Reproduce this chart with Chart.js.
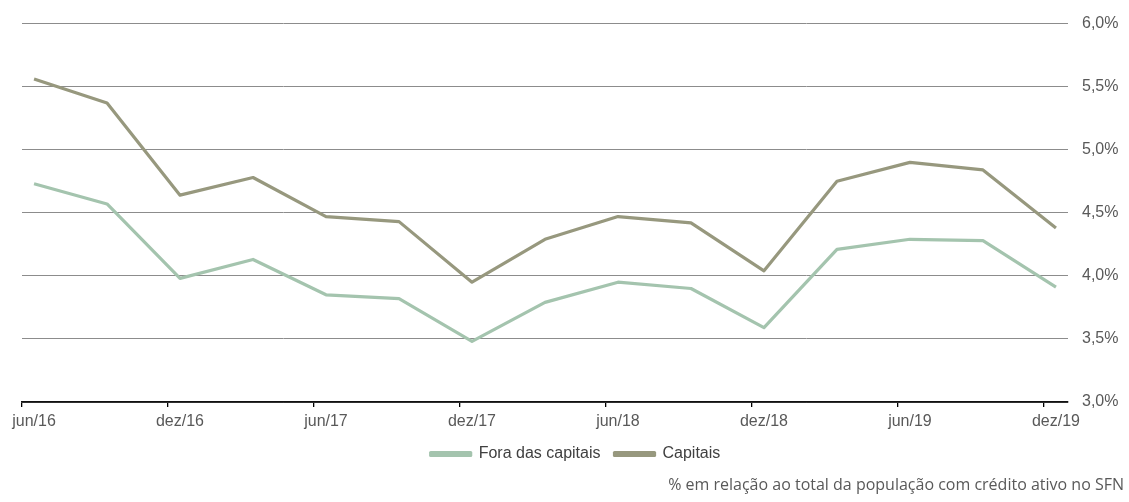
<!DOCTYPE html>
<html lang="pt-BR">
<head>
  <meta charset="UTF-8">
  <title>Inadimplência - capitais e fora das capitais</title>
  <script src="https://cdn.jsdelivr.net/npm/chart.js"></script>
  <style>
    html, body {
      margin: 0;
      padding: 0;
      background: #fff;
    }
    #wrap {
      position: relative;
      width: 1129px;
      height: 502px;
    }
    #nota {
      position: absolute;
      right: 5px;
      top: 473px;
      font-family: "Open Sans", sans-serif;
      font-size: 16px;
      color: #595959;
      white-space: nowrap;
    }
  </style>
</head>
<body>
  <div id="wrap">
    <canvas id="grafico" width="1129" height="502"></canvas>
    <div id="nota">% em relação ao total da população com crédito ativo no SFN</div>
  </div>

  <script>
    // trimestres de jun/16 a dez/19
    const trimestres = ['jun/16', 'set/16', 'dez/16', 'mar/17', 'jun/17', 'set/17', 'dez/17', 'mar/18',
                        'jun/18', 'set/18', 'dez/18', 'mar/19', 'jun/19', 'set/19', 'dez/19'];
    const foraCapitais = [4.73, 4.57, 3.98, 4.13, 3.85, 3.82, 3.48, 3.79, 3.95, 3.90, 3.59, 4.21, 4.29, 4.28, 3.91];
    const capitais = [5.56, 5.37, 4.64, 4.78, 4.47, 4.43, 3.95, 4.29, 4.47, 4.42, 4.04, 4.75, 4.90, 4.84, 4.38];
    const rotulosX = ['jun/16', 'dez/16', 'jun/17', 'dez/17', 'jun/18', 'dez/18', 'jun/19', 'dez/19'];
    const ticksY = [3.0, 3.5, 4.0, 4.5, 5.0, 5.5, 6.0];

    const MARGEM = 0.165; // folga do eixo antes do primeiro e depois do último trimestre

    function pontos(serie) {
      return serie.map((v, i) => ({ x: i, y: v }));
    }

    const fonte = { family: "'Liberation Sans', Arial, sans-serif", size: 16 };

    new Chart(document.getElementById('grafico').getContext('2d'), {
      type: 'line',
      data: {
        datasets: [
          {
            label: 'Fora das capitais',
            data: pontos(foraCapitais),
            borderColor: '#a4c4ae',
            backgroundColor: '#a4c4ae',
            borderWidth: 3.2,
            pointRadius: 0,
            borderJoinStyle: 'round'
          },
          {
            label: 'Capitais',
            data: pontos(capitais),
            borderColor: '#97987e',
            backgroundColor: '#97987e',
            borderWidth: 3.2,
            pointRadius: 0,
            borderJoinStyle: 'round'
          }
        ]
      },
      options: {
        responsive: false,
        animation: false,
        layout: { padding: { left: 22, top: 21, right: 0, bottom: 30 } },
        plugins: {
          tooltip: { enabled: false },
          legend: {
            position: 'bottom',
            labels: {
              boxWidth: 40,
              boxHeight: 3,
              padding: 14,
              color: '#404040',
              font: fonte
            }
          }
        },
        scales: {
          x: {
            type: 'linear',
            min: -MARGEM,
            max: trimestres.length - 1 + MARGEM,
            afterBuildTicks: (scale) => {
              scale.ticks = rotulosX.map((_, k) => ({ value: -MARGEM + 2 * k }));
            },
            afterFit: (scale) => {
              scale.height = 30;
              scale.paddingLeft = 0;
              scale.paddingRight = 0;
            },
            grid: {
              drawOnChartArea: false,
              drawTicks: true,
              tickLength: 5,
              color: '#000',
              lineWidth: 1.3
            },
            border: { display: true, color: '#111', width: 1.8 },
            ticks: {
              autoSkip: false,
              maxRotation: 0,
              labelOffset: 12,
              padding: 5,
              color: '#595959',
              font: fonte,
              callback: (value, index) => rotulosX[index]
            }
          },
          y: {
            position: 'right',
            min: 3,
            max: 6,
            afterBuildTicks: (scale) => {
              scale.ticks = ticksY.map(v => ({ value: v }));
            },
            afterFit: (scale) => { scale.width = 61; },
            grid: {
              drawTicks: false,
              color: '#8c8c8c',
              lineWidth: 1
            },
            border: { display: false },
            ticks: {
              padding: 14,
              color: '#595959',
              font: fonte,
              callback: (v) => v.toFixed(1).replace('.', ',') + '%'
            }
          }
        }
      }
    });
  </script>
</body>
</html>
